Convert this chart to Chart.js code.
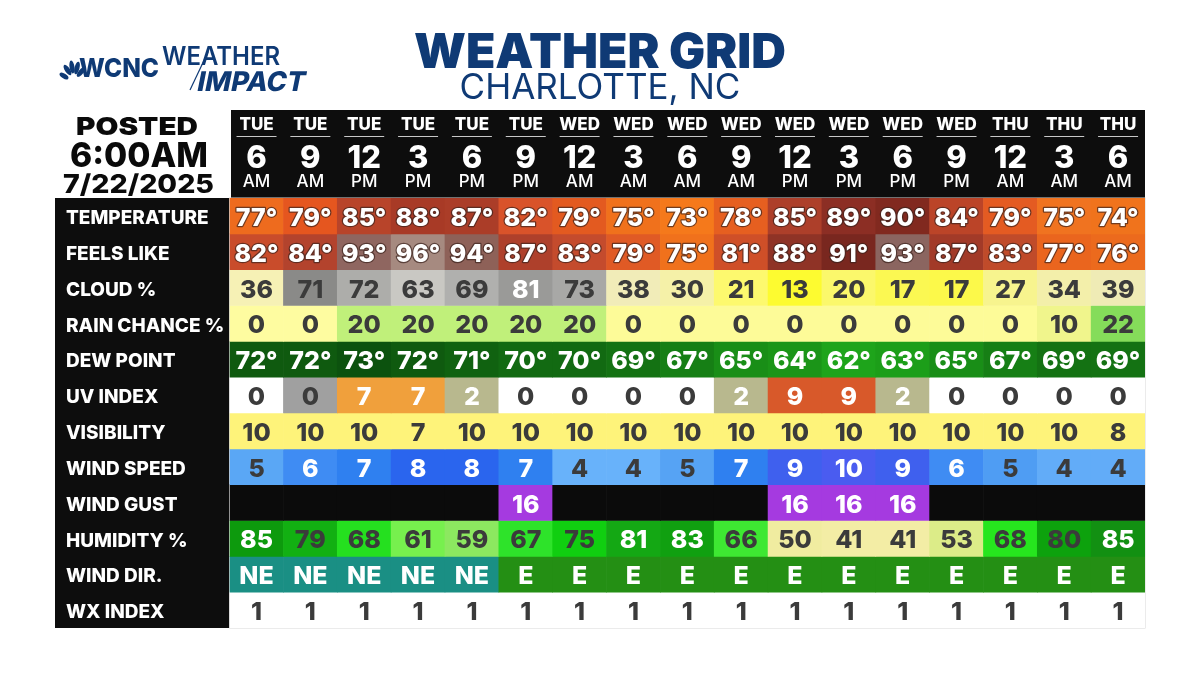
<!DOCTYPE html>
<html><head><meta charset="utf-8">
<script src="https://cdn.jsdelivr.net/npm/chart.js@4/dist/chart.umd.min.js"></script>
<style>html,body{margin:0;padding:0;background:#fff}canvas{display:block}</style>
</head><body><canvas id="c" width="1200" height="675"></canvas>
<script>
const days=['TUE','TUE','TUE','TUE','TUE','TUE','WED','WED','WED','WED','WED','WED','WED','WED','THU','THU','THU'];
const hours=['6','9','12','3','6','9','12','3','6','9','12','3','6','9','12','3','6'];
const meridiems=['AM','AM','PM','PM','PM','PM','AM','AM','AM','AM','PM','PM','PM','PM','AM','AM','AM'];
const rowLabels=['TEMPERATURE','FEELS LIKE','CLOUD %','RAIN CHANCE %','DEW POINT','UV INDEX','VISIBILITY','WIND SPEED','WIND GUST','HUMIDITY %','WIND DIR.','WX INDEX'];

const temperature=[77,79,85,88,87,82,79,75,73,78,85,89,90,84,79,75,74];
const feelsLike=[82,84,93,96,94,87,83,79,75,81,88,91,93,87,83,77,76];
const cloud=[36,71,72,63,69,81,73,38,30,21,13,20,17,17,27,34,39];
const rainChance=[0,0,20,20,20,20,20,0,0,0,0,0,0,0,0,10,22];
const dewPoint=[72,72,73,72,71,70,70,69,67,65,64,62,63,65,67,69,69];
const uvIndex=[0,0,7,7,2,0,0,0,0,2,9,9,2,0,0,0,0];
const visibility=[10,10,10,7,10,10,10,10,10,10,10,10,10,10,10,10,8];
const windSpeed=[5,6,7,8,8,7,4,4,5,7,9,10,9,6,5,4,4];
const windGust=[null,null,null,null,null,16,null,null,null,null,16,16,16,null,null,null,null];
const humidity=[85,79,68,61,59,67,75,81,83,66,50,41,41,53,68,80,85];
const windDir=['NE','NE','NE','NE','NE','E','E','E','E','E','E','E','E','E','E','E','E'];
const wxIndex=[1,1,1,1,1,1,1,1,1,1,1,1,1,1,1,1,1];
const rowValues=[temperature,feelsLike,cloud,rainChance,dewPoint,uvIndex,visibility,windSpeed,windGust,humidity,windDir,wxIndex];
const rowSuffix=['°','°','','','°','','','','','','',''];

const tempColors=['#ee6b1e','#e5561f','#b8442a','#a83a26','#ab3d28','#d9532a','#e35a20','#f0711c','#f5791b','#e65f20','#ad3f2a','#8c2e24','#81291f','#bb4428','#e45b22','#f07320','#f0731c'];
const feelsColors=['#c94c2b','#b3432d','#8f6660','#a68a80','#8e6158','#ae402b','#c44b2d','#e05a25','#f0711c','#cf4f28','#8f3326','#79271f','#8b6560','#a23a28','#c04b2a','#ea651e','#ec6a1d'];
const cloudColors=['#f6f1b5','#8a8a88','#adadaa','#c9c8c3','#b0b0ae','#9a9a98','#a8a8a6','#f1ecb8','#f5f1a8','#fdf96e','#fdfb30','#fbf86b','#fbf852','#fcf94a','#f7f48e','#f3efaa','#efebb5'];
const rainColors=['#fefca0','#fefca0','#c0f07a','#c0f07a','#c0f07a','#c0f07a','#c0f07a','#fdfb98','#fdfb98','#fdfb98','#fdfb98','#fdfb98','#fdfb98','#fdfb98','#fdfb98','#f0f58c','#85dc5a'];
const dewColors=['#0f5a0f','#0f5a0f','#0c520e','#0f5a0f','#106210','#126a12','#126a12','#147213','#167f15','#198e17','#1b9518','#1ea41b','#1c9e19','#198e17','#167f15','#147213','#147213'];
const uvColors=['#ffffff','#a0a0a0','#f0a03c','#f0a03c','#b8b88e','#ffffff','#ffffff','#ffffff','#ffffff','#b8b88e','#d8592a','#d8592a','#b8b88e','#ffffff','#ffffff','#ffffff','#ffffff'];
const visColors=Array(17).fill('#fef37a');
const speedColors=['#5aa7f5','#3f8cf3','#2f80f0','#2a65ee','#2a65ee','#2f80f0','#68b2fa','#68b2fa','#56a3f4','#2f80f0','#3f60ee','#4a5cf0','#3f60ee','#3f8cf3','#4f9df3','#62acf8','#62acf8'];
const gustColors=windGust.map(v=>v===null?'#0b0b0b':'#a53ae0');
const humidColors=['#0d9a0d','#12b012','#25e01f','#77f04e','#8ce860','#2ee32a','#10cf10','#14a814','#10a010','#3ee832','#f0eca0','#f3eda5','#f3eda5','#dcec88','#26e61e','#0da20d','#129012'];
const dirColors=windDir.map(v=>v==='NE'?'#1a8f84':'#248f14');
const wxColors=Array(17).fill('#ffffff');
const rowColors=[tempColors,feelsColors,cloudColors,rainColors,dewColors,uvColors,visColors,speedColors,gustColors,humidColors,dirColors,wxColors];

const W='#ffffff',D='#3b3b3b';
const tempInk=Array(17).fill(W);
const cloudInk=cloud.map(v=>v===81?W:D);
const rainInk=Array(17).fill(D);
const uvInk=uvIndex.map(v=>v===0?D:W);
const visInk=Array(17).fill(D);
const speedInk=windSpeed.map(v=>(v===4||v===5)?D:W);
const humidInk=humidity.map(v=>(v>=81)?W:D);
const rowInk=[tempInk,tempInk,cloudInk,rainInk,tempInk,uvInk,visInk,speedInk,tempInk,humidInk,tempInk,rainInk];

const FONT='Inter, "Open Sans", sans-serif';
const NAVY='#0f3a75';

function fit(ctx,text,cx,y,font,width,color,skew){
  ctx.save();ctx.font=font;ctx.fillStyle=color;ctx.textAlign='center';ctx.textBaseline='alphabetic';
  const m=ctx.measureText(text).width;
  ctx.translate(cx,y);
  if(skew)ctx.transform(1,0,-skew,1,0,0);
  ctx.scale(width/m,1);ctx.fillText(text,0,0);ctx.restore();
}

const backdrop={id:'backdrop',beforeDraw(ch){
  const c=ch.ctx,a=ch.chartArea;
  c.save();
  c.fillStyle='#fff';c.fillRect(0,0,ch.width,ch.height);
  c.fillStyle='#0d0d0d';
  c.fillRect(55,a.top,a.left-55,a.bottom-a.top);
  c.fillRect(231,110,a.right-231,a.top-110);
  c.strokeStyle='#d8d8d8';c.lineWidth=1;
  c.strokeRect(a.left,a.top,a.right-a.left,a.bottom-a.top);
  c.restore();
},
afterDatasetsDraw(ch){
  const c=ch.ctx,xs=ch.scales.x,ys=ch.scales.y;
  c.save();c.textAlign='center';c.textBaseline='middle';c.lineJoin='round';
  rowValues.forEach((vals,r)=>{
    const y=ys.getPixelForValue(r)+2.5;
    vals.forEach((v,i)=>{
      if(v===null)return;
      const x=xs.getPixelForValue(i);
      const txt=v+rowSuffix[r];
      c.font='800 25px '+FONT;
      if(r<2){c.lineWidth=2.5;c.strokeStyle='rgba(60,35,30,0.7)';c.strokeText(txt,x,y);}
      c.fillStyle=rowInk[r][i];c.fillText(txt,x,y);
    });
  });
  c.strokeStyle='#c8c8c8';c.lineWidth=1;
  days.forEach((d,i)=>{const x=xs.getPixelForValue(i);c.beginPath();c.moveTo(x-20,136.5);c.lineTo(x+20,136.5);c.stroke();});
  c.restore();
  fit(c,'POSTED',137,135,'900 25px '+FONT,122,'#0a0a0a');
  fit(c,'6:00AM',139,167,'800 34px '+FONT,138,'#0a0a0a');
  fit(c,'7/22/2025',138.5,193,'800 26px '+FONT,151,'#0a0a0a');
  c.save();c.fillStyle=NAVY;
  const cols=[[64,76,2.5,5,-1.0],[67.5,70,2.5,6,-0.6],[72,67,2.5,6.5,-0.15],[77,68,2.5,6.5,0.25],[81,72,2.5,6,0.7]];
  cols.forEach(p=>{c.beginPath();c.ellipse(p[0],p[1],p[2],p[3],p[4],0,Math.PI*2);c.fill();});
  c.restore();
  fit(c,'WCNC',119,77,'800 26px '+FONT,80,NAVY);
  fit(c,'WEATHER',221,65,'600 26px '+FONT,118,NAVY);
  fit(c,'IMPACT',250,91,'800 27px '+FONT,108,NAVY,0.2);
  c.save();c.strokeStyle=NAVY;c.lineWidth=1.2;c.beginPath();c.moveTo(190,90);c.lineTo(208,52);c.stroke();c.restore();
}};

function topAxis(labels,size,weight,h,pad,w){
  return {axis:'x',type:'category',position:'top',labels,offset:true,weight:w,
    grid:{display:false,drawTicks:false},border:{display:false},
    afterFit(s){s.height=h;},
    ticks:{autoSkip:false,maxRotation:0,minRotation:0,padding:pad,color:'#fff',
      font:{family:FONT,size,weight,lineHeight:1}}};
}

new Chart(document.getElementById('c'),{
  type:'bar',
  data:{labels:hours,datasets:rowValues.map((vals,r)=>({
    label:rowLabels[r],
    data:vals.map(()=>[r-0.5,r+0.5]),
    backgroundColor:rowColors[r],
    borderWidth:0,grouped:false,barPercentage:1,categoryPercentage:1
  }))},
  plugins:[backdrop],
  options:{responsive:false,animation:false,
    layout:{padding:{left:55,right:55,bottom:47,top:0}},
    plugins:{legend:{display:false},tooltip:{enabled:false},
      title:{display:true,text:'WEATHER GRID',color:NAVY,font:{family:FONT,size:48,weight:'900',lineHeight:1},padding:{top:30,bottom:-7}},
      subtitle:{display:true,text:'CHARLOTTE, NC',color:NAVY,font:{family:FONT,size:35,weight:'400',lineHeight:1},padding:{top:0,bottom:4}}
    },
    scales:{
      xDay:topAxis(days,17,'800',33,9.5,3),
      x:topAxis(hours,31,'800',31,0,2),
      xMer:topAxis(meridiems,17,'500',24,7.5,1),
      y:{reverse:true,min:-0.5,max:11.5,
        grid:{display:false,drawTicks:false},border:{display:false},
        afterBuildTicks(s){s.ticks=rowLabels.map((_,i)=>({value:i}));},
        afterFit(s){s.width=174.6;},
        ticks:{autoSkip:false,mirror:true,padding:-163.6,labelOffset:2.5,color:'#fff',
          font:{family:FONT,size:19,weight:'800'},
          callback:v=>rowLabels[v]}}
    }
  }
});
</script></body></html>
